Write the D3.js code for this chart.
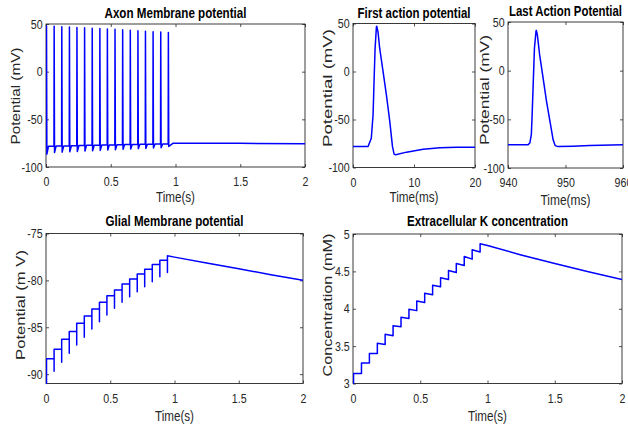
<!DOCTYPE html>
<html><head><meta charset="utf-8">
<script src="https://cdn.jsdelivr.net/npm/d3@7"></script>
<style>
html,body{margin:0;padding:0;background:#fff;}
svg{display:block;}
.tick text{font-family:"Liberation Sans Narrow","Liberation Sans",Arial,sans-serif;font-size:13px;fill:#262626;}
</style></head>
<body><svg id="c" width="628" height="426"></svg>
<script>
// ---------- DATA ----------
// spike peak times (ms)
const spikeTimesMs = [4, 63, 122, 181, 239, 298, 357, 416, 474, 533, 592, 651, 710, 768, 827, 886, 945];
// axon membrane potential (mV)
const axonPre    = [-78.6, -78.3, -78.1, -77.9, -77.7, -77.5, -77.3, -77.2, -77.0, -76.8, -76.7, -76.5, -76.4, -76.2, -76.1, -75.9, -75.8];
const axonPeak   = [48, 47.6, 47.2, 46.8, 46.4, 46.0, 45.6, 45.2, 44.8, 44.4, 44.0, 43.5, 43.0, 42.5, 42.0, 41.5, 41.0];
const axonTrough = [-86.5, -84.8, -84.4, -84.0, -83.7, -83.3, -82.9, -82.6, -82.2, -81.9, -81.5, -81.2, -80.8, -80.5, -80.1, -79.8, -78.4];
const axonTailMs = [980, 1000, 1500, 2000];
const axonTailV  = [-75.2, -75.0, -75.2, -75.5];
// first action potential (ms, mV)
const firstApT = [0, 2.47, 3.0, 3.29, 3.45, 3.62, 3.84, 3.89, 4.1, 4.38, 4.93, 5.48, 6.03, 6.47, 6.74, 7.0, 8.77, 11.5, 14.25, 17.0, 20];
const firstApV = [-78.2, -78.2, -69.5, -45, -10.6, 24, 46.5, 47.2, 41.3, 24, -0.2, -24.5, -52, -78, -86, -86.8, -84, -81, -79.5, -78.9, -78.9];
// last action potential (ms, mV)
const lastApT = [940, 943.5, 943.8, 944.06, 944.2, 944.4, 944.6, 944.87, 944.93, 945.1, 945.5, 946.1, 946.7, 947.3, 947.85, 948.2, 948.7, 951.3, 954.2, 960];
const lastApV = [-76, -76, -74.3, -65.8, -45, -11, 23, 40.4, 41.4, 37, 16.4, -7.5, -31.5, -52, -71, -77, -78, -77.7, -77, -76];
// glial membrane potential (mV)
const glialStart = -91;
const glialDip   = [-91, -89.7, -88.72, -87.77, -86.88, -86.06, -85.18, -84.4, -83.69, -82.98, -82.34, -81.74, -81.2, -80.67, -80.14, -79.6, -79.15];
const glialLevel = [-88.37, -87.34, -86.28, -85.46, -84.57, -83.79, -83.05, -82.34, -81.63, -81.03, -80.39, -79.86, -79.33, -78.8, -78.3, -77.84, -77.38];
const glialTailMs = [1000, 1250, 1500, 1750, 2000];
const glialTailV  = [-77.52, -78.15, -78.77, -79.39, -80.0];
// extracellular K concentration (mM)
const kStart = 3.0;
const kPre  = [3.0, 3.134, 3.273, 3.403, 3.523, 3.64, 3.76, 3.87, 3.975, 4.083, 4.186, 4.293, 4.391, 4.485, 4.579, 4.664, 4.758];
const kPost = [3.134, 3.273, 3.403, 3.537, 3.658, 3.774, 3.886, 3.993, 4.105, 4.208, 4.315, 4.414, 4.512, 4.606, 4.700, 4.789, 4.87];
const kTailMs = [1000, 1250, 1500, 1750, 2000];
const kTailV  = [4.845, 4.72, 4.605, 4.495, 4.39];
// ticks
const ticksTimeS = [0, 0.5, 1, 1.5, 2];
const ticksFirstMs = [0, 10, 20];
const ticksLastMs = [940, 950, 960];
const ticksPotential = [-100, -50, 0, 50];
const ticksGlial = [-90, -85, -80, -75];
const ticksK = [3, 3.5, 4, 4.5, 5];

// ---------- BUILD SERIES ----------
const axonSeries = [];
spikeTimesMs.forEach((t, i) => {
  if (i === 0) axonSeries.push([0, axonPre[0]]);
  axonSeries.push([(t - 1.5) / 1000, axonPre[i]]);
  axonSeries.push([t / 1000, axonPeak[i]]);
  axonSeries.push([(t + 2.8) / 1000, axonTrough[i]]);
  if (i + 1 < spikeTimesMs.length) axonSeries.push([(t + 15) / 1000, axonPre[i + 1]]);
});
axonTailMs.forEach((t, i) => axonSeries.push([t / 1000, axonTailV[i]]));

const firstAp = firstApT.map((t, i) => [t, firstApV[i]]);
const lastAp = lastApT.map((t, i) => [t, lastApV[i]]);

const glialSeries = [[0, glialStart]];
spikeTimesMs.forEach((t, i) => {
  const prev = i === 0 ? glialStart : glialLevel[i - 1];
  glialSeries.push([t / 1000, prev]);
  glialSeries.push([t / 1000, glialDip[i]]);
  glialSeries.push([t / 1000, glialLevel[i]]);
});
glialTailMs.forEach((t, i) => glialSeries.push([t / 1000, glialTailV[i]]));

const kSeries = [[0, kStart]];
spikeTimesMs.forEach((t, i) => {
  kSeries.push([t / 1000, kPre[i]]);
  kSeries.push([t / 1000, kPost[i]]);
});
kTailMs.forEach((t, i) => kSeries.push([t / 1000, kTailV[i]]));

// ---------- DRAW ----------
const svg = d3.select("#c");
const INK = "#262626";
const FONT = '"Liberation Sans",Arial,sans-serif';
let clipId = 0;

// text squeezed horizontally to a target width (narrow MATLAB font look)
function fitText(g, str, cx, cy, target, size, weight, fill, rot) {
  const t = g.append("text").attr("text-anchor", "middle").attr("font-family", FONT)
    .attr("font-size", size).attr("font-weight", weight).attr("fill", fill).text(str);
  const w = t.node().getComputedTextLength();
  const s = target / w;
  t.attr("transform", `translate(${cx},${cy})` + (rot ? " rotate(-90)" : "") + ` scale(${s},1)`);
  return t;
}

function panel(o) {
  const x = d3.scaleLinear().domain(o.xd).range([o.x0, o.x1]);
  const y = d3.scaleLinear().domain(o.yd).range([o.y1, o.y0]);
  const g = svg.append("g");
  const fmt = d => String(d);
  const tl = 3;
  g.append("g").attr("transform", `translate(0,${o.y1})`)
    .call(d3.axisBottom(x).tickValues(o.xt).tickFormat(fmt).tickSizeInner(-tl).tickSizeOuter(0).tickPadding(10));
  g.append("g").attr("transform", `translate(0,${o.y0})`)
    .call(d3.axisTop(x).tickValues(o.xt).tickFormat("").tickSizeInner(-tl).tickSizeOuter(0));
  g.append("g").attr("transform", `translate(${o.x0},0)`)
    .call(d3.axisLeft(y).tickValues(o.yt).tickFormat(fmt).tickSizeInner(-tl).tickSizeOuter(0).tickPadding(4));
  g.append("g").attr("transform", `translate(${o.x1},0)`)
    .call(d3.axisRight(y).tickValues(o.yt).tickFormat("").tickSizeInner(-tl).tickSizeOuter(0));
  g.selectAll(".domain").remove();
  g.selectAll(".tick line").attr("stroke", INK).attr("stroke-width", 0.8);
  g.selectAll(".tick text").attr("fill", INK).attr("transform", "scale(0.82,1)");
  g.append("rect").attr("x", o.x0).attr("y", o.y0).attr("width", o.x1 - o.x0).attr("height", o.y1 - o.y0)
    .attr("fill", "none").attr("stroke", INK).attr("stroke-width", 0.9);
  const id = "clip" + (clipId++);
  svg.append("clipPath").attr("id", id).append("rect")
    .attr("x", o.x0).attr("y", o.y0 - 1).attr("width", o.x1 - o.x0).attr("height", o.y1 - o.y0 + 2);
  g.append("path").datum(o.data).attr("clip-path", `url(#${id})`)
    .attr("fill", "none").attr("stroke", "#0000ff").attr("stroke-width", 1.5).attr("stroke-linejoin", "round")
    .attr("d", d3.line().x(d => x(d[0])).y(d => y(d[1])));
  const cx = (o.x0 + o.x1) / 2;
  fitText(g, o.title, cx, o.ty, o.tl, 14, "bold", "#000", false);
  fitText(g, o.xl, cx, o.xly, o.xll, 14, "normal", INK, false);
  fitText(g, o.yl, o.ylx, o.yly, o.yll, 13.5, "normal", INK, true);
}

panel({x0: 46, x1: 305, y0: 24, y1: 167, xd: [0, 2], yd: [-100, 50], xt: ticksTimeS, yt: ticksPotential,
  data: axonSeries, title: "Axon Membrane potential", ty: 18, tl: 142, xl: "Time(s)", xly: 202, xll: 39,
  yl: "Potential (mV)", ylx: 20, yly: 96, yll: 97});
panel({x0: 353, x1: 475, y0: 23.5, y1: 167.5, xd: [0, 20], yd: [-100, 50], xt: ticksFirstMs, yt: ticksPotential,
  data: firstAp, title: "First action potential", ty: 18, tl: 113, xl: "Time(ms)", xly: 202, xll: 49,
  yl: "Potential (mV)", ylx: 332, yly: 88, yll: 118});
panel({x0: 508, x1: 623, y0: 22, y1: 168, xd: [940, 960], yd: [-100, 50], xt: ticksLastMs, yt: ticksPotential,
  data: lastAp, title: "Last Action Potential", ty: 16, tl: 113, xl: "Time(ms)", xly: 205, xll: 50,
  yl: "Potential (mV)", ylx: 489, yly: 90, yll: 110});
panel({x0: 46, x1: 303, y0: 233.5, y1: 383.5, xd: [0, 2], yd: [-91, -75], xt: ticksTimeS, yt: ticksGlial,
  data: glialSeries, title: "Glial Membrane potential", ty: 226, tl: 138, xl: "Time(s)", xly: 421, xll: 39,
  yl: "Potential (m V)", ylx: 25, yly: 305, yll: 110});
panel({x0: 353, x1: 622, y0: 234, y1: 383.5, xd: [0, 2], yd: [3, 5], xt: ticksTimeS, yt: ticksK,
  data: kSeries, title: "Extracellular K concentration", ty: 226, tl: 161, xl: "Time(s)", xly: 421, xll: 39,
  yl: "Concentration (mM)", ylx: 332, yly: 305, yll: 143});
</script></body></html>
